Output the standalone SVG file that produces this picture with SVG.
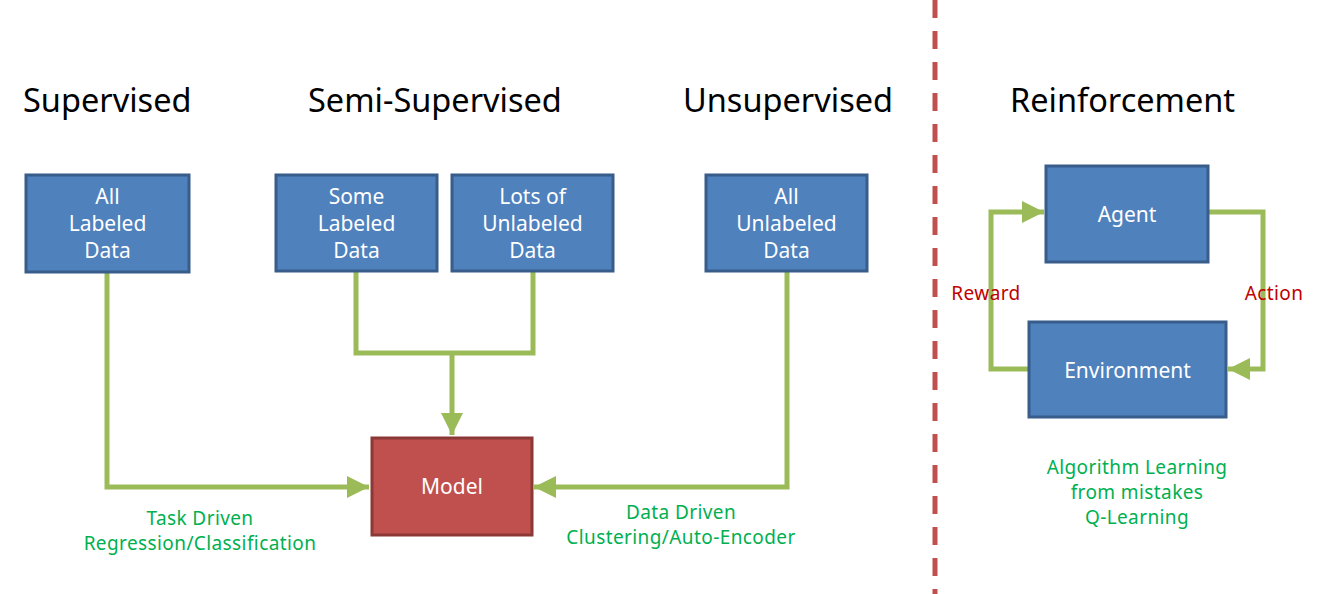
<svg xmlns="http://www.w3.org/2000/svg" width="1320" height="594" viewBox="0 0 1320 594">
<defs>
<style>
.title{font-family:"Noto Sans","Liberation Sans",sans-serif;font-size:32.5px;fill:#000;}
.bt{font-family:"Noto Sans","Liberation Sans",sans-serif;font-size:21px;fill:#fff;text-anchor:middle;}
.blue{fill:#4F81BD;stroke:#385D8A;stroke-width:3;}
.red{fill:#C0504D;stroke:#8C3836;stroke-width:3;}
.conn{fill:none;stroke:#9BBB59;stroke-width:5;stroke-linejoin:miter;}
.gl{font-family:"Noto Sans","Liberation Sans",sans-serif;font-size:19px;letter-spacing:0.4px;fill:#00B050;text-anchor:middle;}
.rl{font-family:"Noto Sans","Liberation Sans",sans-serif;font-size:19px;letter-spacing:0.4px;fill:#C00000;text-anchor:middle;}
</style>
<marker id="ah" markerUnits="userSpaceOnUse" markerWidth="24" markerHeight="24" viewBox="0 0 24 24" refX="22" refY="12" orient="auto">
<path d="M0,1 L22,12 L0,23 Z" fill="#9BBB59"/>
</marker>
</defs>
<line x1="935" y1="0" x2="935" y2="594" stroke="#C0504D" stroke-width="5" stroke-dasharray="18 13"/>
<g id="titles">
<text class="title" x="23" y="112">Supervised</text>
<text class="title" x="308" y="112">Semi-Supervised</text>
<text class="title" x="683" y="112">Unsupervised</text>
<text class="title" x="1010" y="112">Reinforcement</text>
</g>
<g id="connectors">
<polyline class="conn" points="107,272 107,487 369,487" marker-end="url(#ah)"/>
<polyline class="conn" points="356,272 356,353 533,353 533,272"/>
<polyline class="conn" points="452,353 452,435" marker-end="url(#ah)"/>
<polyline class="conn" points="787,272 787,487 534,487" marker-end="url(#ah)"/>
<polyline class="conn" points="1208,212 1263,212 1263,369 1228,369" marker-end="url(#ah)"/>
<polyline class="conn" points="1028,369 991,369 991,212 1044,212" marker-end="url(#ah)"/>
</g>
<g id="n-all-labeled">
<rect class="blue" x="26" y="175" width="163" height="97"/>
<text class="bt" x="107.5" y="204">All</text>
<text class="bt" x="107.5" y="231">Labeled</text>
<text class="bt" x="107.5" y="258">Data</text>
</g>
<g id="n-some-labeled">
<rect class="blue" x="276" y="175" width="161" height="96"/>
<text class="bt" x="356.5" y="204">Some</text>
<text class="bt" x="356.5" y="231">Labeled</text>
<text class="bt" x="356.5" y="258">Data</text>
</g>
<g id="n-lots-unlabeled">
<rect class="blue" x="452" y="175" width="161" height="96"/>
<text class="bt" x="532.5" y="204">Lots of</text>
<text class="bt" x="532.5" y="231">Unlabeled</text>
<text class="bt" x="532.5" y="258">Data</text>
</g>
<g id="n-all-unlabeled">
<rect class="blue" x="706" y="175" width="161" height="96"/>
<text class="bt" x="786.5" y="204">All</text>
<text class="bt" x="786.5" y="231">Unlabeled</text>
<text class="bt" x="786.5" y="258">Data</text>
</g>
<g id="n-model">
<rect class="red" x="372" y="438" width="160" height="97"/>
<text class="bt" x="452" y="494">Model</text>
</g>
<g id="n-agent">
<rect class="blue" x="1046" y="166" width="162" height="96"/>
<text class="bt" x="1127" y="222">Agent</text>
</g>
<g id="n-environment">
<rect class="blue" x="1029" y="322" width="197" height="95"/>
<text class="bt" x="1127.5" y="378">Environment</text>
</g>
<g id="labels">
<text class="gl" x="200" y="525">Task Driven</text>
<text class="gl" x="200" y="550">Regression/Classification</text>
<text class="gl" x="681" y="519">Data Driven</text>
<text class="gl" x="681" y="544">Clustering/Auto-Encoder</text>
<text class="gl" x="1137" y="474">Algorithm Learning</text>
<text class="gl" x="1137" y="499">from mistakes</text>
<text class="gl" x="1137" y="524">Q-Learning</text>
<text class="rl" x="986" y="300">Reward</text>
<text class="rl" x="1274" y="300">Action</text>
</g>
</svg>
